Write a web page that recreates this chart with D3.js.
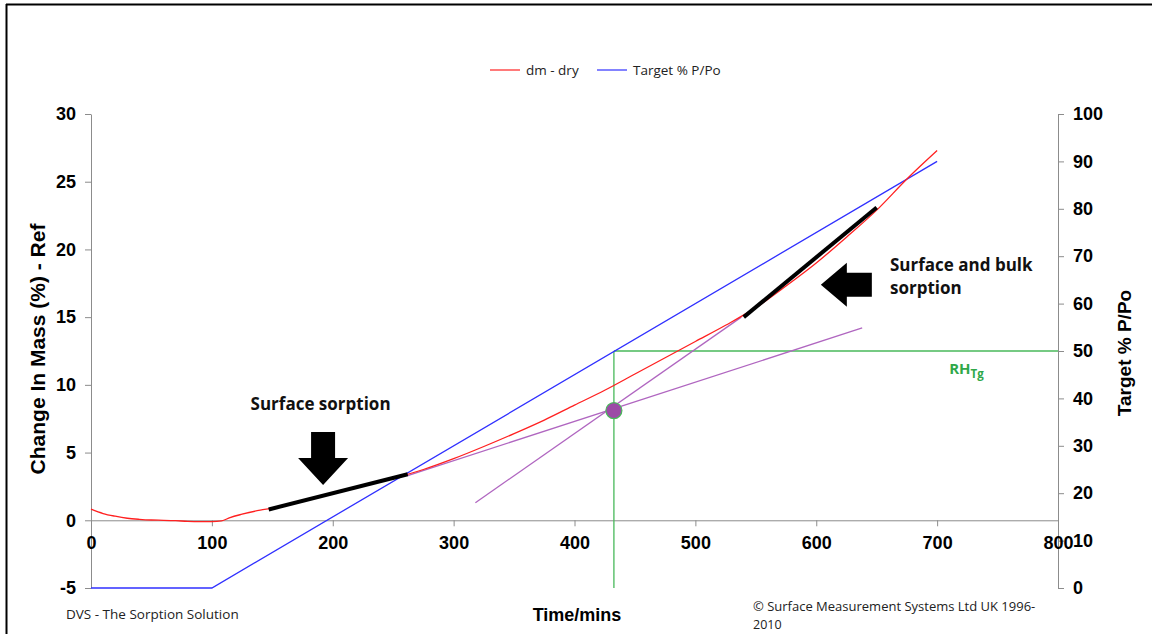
<!DOCTYPE html>
<html>
<head>
<meta charset="utf-8">
<script src="https://cdn.jsdelivr.net/npm/d3@7"></script>
<style>
  html, body { margin: 0; padding: 0; background: #fff; }
  svg { display: block; }
</style>
</head>
<body>
<svg id="chart" width="1152" height="634"></svg>
<script>
// Time axis (minutes)
const timeTicks = [0, 100, 200, 300, 400, 500, 600, 700, 800];
// Left axis: change in mass (%)
const massTicks = [-5, 0, 5, 10, 15, 20, 25, 30];
// Right axis: target % P/Po
const rhTicks = [0, 10, 20, 30, 40, 50, 60, 70, 80, 90, 100];

// dm - dry series: [minutes, % change in mass]
const dmTime = [0, 10, 20, 30, 40, 50, 60, 70, 80, 90, 100, 108, 115, 125, 140, 150, 175, 200, 225, 250, 275, 300, 325, 350, 375, 400, 425, 450, 475, 500, 525, 550, 575, 600, 625, 650, 675, 700];
const dmMass = [0.82, 0.5, 0.3, 0.15, 0.07, 0.02, 0, -0.03, -0.08, -0.1, -0.1, -0.05, 0.2, 0.45, 0.75, 0.9, 1.45, 2.0, 2.55, 3.1, 3.75, 4.55, 5.45, 6.4, 7.4, 8.5, 9.6, 10.8, 12.0, 13.2, 14.4, 15.7, 17.3, 19.0, 20.9, 22.9, 25.2, 27.3];

// Target % P/Po series: [minutes, %]
const targetTime = [0, 100, 700];
const targetRH = [0, 0, 90];

// Tangent lines drawn on the mass curve (minutes, % mass)
const surfaceTangent = [[147, 0.8], [262, 3.4]];
const bulkTangent = [[540, 15.0], [650, 23.1]];
// Construction lines through the glass transition point
const shallowLine = [[262, 3.3], [638, 14.2]];
const steepLine = [[318, 1.3], [538, 15.0]];
const tgPoint = [432.6, 8.1];
const tgRH = 50;

const svg = d3.select("#chart");
const W = 1152, H = 634;

const x = d3.scaleLinear().domain([0, 800]).range([91, 1058]);
const yL = d3.scaleLinear().domain([-5, 30]).range([588, 114]);
const yR = d3.scaleLinear().domain([0, 100]).range([588, 114]);

// outer frame
svg.append("line").attr("x1", 6).attr("y1", 4.5).attr("x2", W).attr("y2", 4.5)
  .attr("stroke", "#000").attr("stroke-width", 2);
svg.append("line").attr("x1", 6.5).attr("y1", 4).attr("x2", 6.5).attr("y2", H)
  .attr("stroke", "#000").attr("stroke-width", 2);

const axisFont = "'Liberation Sans', Arial, sans-serif";
const smallFont = "'Open Sans', 'Noto Sans', sans-serif";
const plainInt = d => String(d);

function styleAxis(g) {
  g.selectAll("path.domain").attr("stroke", "#8c8c8c");
  g.selectAll(".tick line").attr("stroke", "#8c8c8c");
  g.selectAll(".tick text").attr("fill", "#000")
    .style("font-family", axisFont).style("font-weight", "bold").style("font-size", "18px");
}

// left axis
const gL = svg.append("g").attr("transform", `translate(${x(0)},0)`)
  .call(d3.axisLeft(yL).tickValues(massTicks).tickSize(6).tickSizeOuter(0).tickPadding(9).tickFormat(plainInt));
styleAxis(gL);

// right axis
const gR = svg.append("g").attr("transform", `translate(${x(800)},0)`)
  .call(d3.axisRight(yR).tickValues(rhTicks).tickSize(6).tickSizeOuter(0).tickPadding(9).tickFormat(plainInt));
styleAxis(gR);

// time axis along mass = 0
const gB = svg.append("g").attr("transform", `translate(0,${yL(0)})`)
  .call(d3.axisBottom(x).tickValues(timeTicks).tickSize(6).tickSizeOuter(0).tickPadding(10).tickFormat(plainInt));
styleAxis(gB);
gB.selectAll(".tick").filter(d => d === 0).select("line").remove();

// axis titles
svg.append("text")
  .attr("transform", `translate(45,349) rotate(-90)`)
  .attr("text-anchor", "middle")
  .style("font-family", axisFont).style("font-weight", "bold").style("font-size", "21px")
  .text("Change In Mass (%) - Ref");
svg.append("text")
  .attr("transform", `translate(1131,${(yR(0) + yR(100)) / 2 + 2}) rotate(-90)`)
  .attr("text-anchor", "middle")
  .style("font-family", axisFont).style("font-weight", "bold").style("font-size", "19px")
  .text("Target % P/Po");
svg.append("text")
  .attr("x", 577).attr("y", 621)
  .attr("text-anchor", "middle")
  .style("font-family", axisFont).style("font-weight", "bold").style("font-size", "18px")
  .text("Time/mins");

// footer notes
svg.append("text").attr("x", 66).attr("y", 619)
  .style("font-family", smallFont).style("font-size", "13.5px").attr("fill", "#222")
  .text("DVS - The Sorption Solution");
svg.append("text").attr("x", 753).attr("y", 611)
  .style("font-family", smallFont).style("font-size", "13px").attr("fill", "#222")
  .text("\u00A9 Surface Measurement Systems Ltd UK 1996-");
svg.append("text").attr("x", 753).attr("y", 629)
  .style("font-family", smallFont).style("font-size", "12.5px").attr("fill", "#222")
  .text("2010");

// legend
const legend = [
  { name: "dm - dry", color: "#ff2020", x: 490 },
  { name: "Target % P/Po", color: "#3030ff", x: 597 }
];
legend.forEach(l => {
  svg.append("line").attr("x1", l.x).attr("x2", l.x + 30).attr("y1", 70).attr("y2", 70)
    .attr("stroke", l.color).attr("stroke-width", 1.2);
  svg.append("text").attr("x", l.x + 36).attr("y", 75)
    .style("font-family", smallFont).style("font-size", "13.5px").attr("fill", "#222")
    .text(l.name);
});

// green RH_Tg guide lines
const green = "#48b85a";
svg.append("line")
  .attr("x1", x(tgPoint[0])).attr("x2", x(800))
  .attr("y1", yR(tgRH)).attr("y2", yR(tgRH))
  .attr("stroke", green).attr("stroke-width", 1.3);
svg.append("line")
  .attr("x1", x(tgPoint[0])).attr("x2", x(tgPoint[0]))
  .attr("y1", yR(tgRH)).attr("y2", yL(-5))
  .attr("stroke", green).attr("stroke-width", 1.3);
const rhLabel = svg.append("text").attr("x", x(710)).attr("y", yR(45.2))
  .attr("fill", "#2fa84a")
  .style("font-family", smallFont).style("font-weight", "bold").style("font-size", "15px");
rhLabel.append("tspan").text("RH");
rhLabel.append("tspan").attr("dy", 4).style("font-size", "11.5px").text("Tg");

// purple construction lines
const purple = "#b066c0";
const seg = d3.line().x(d => x(d[0])).y(d => yL(d[1]));
[shallowLine, steepLine].forEach(s => {
  svg.append("path").attr("d", seg(s)).attr("fill", "none")
    .attr("stroke", purple).attr("stroke-width", 1.3);
});

// target series
const targetData = targetTime.map((t, i) => [t, targetRH[i]]);
svg.append("path")
  .attr("d", d3.line().x(d => x(d[0])).y(d => yR(d[1]))(targetData))
  .attr("fill", "none").attr("stroke", "#3030ff").attr("stroke-width", 1.3);

// mass series
const dmData = dmTime.map((t, i) => [t, dmMass[i]]);
svg.append("path")
  .attr("d", d3.line().curve(d3.curveMonotoneX).x(d => x(d[0])).y(d => yL(d[1]))(dmData))
  .attr("fill", "none").attr("stroke", "#ff2020").attr("stroke-width", 1.3);

// black tangents
[surfaceTangent, bulkTangent].forEach(s => {
  svg.append("path").attr("d", seg(s)).attr("fill", "none")
    .attr("stroke", "#000").attr("stroke-width", 4).attr("stroke-linecap", "butt");
});

// glass transition point
svg.append("circle").attr("cx", x(tgPoint[0])).attr("cy", yL(tgPoint[1])).attr("r", 8)
  .attr("fill", "#9c4aa6").attr("stroke", green).attr("stroke-width", 1.2);

// annotation arrows, anchored at their tips
function downArrow(tx, ty) {
  const p = [[0, 0], [-25, -27], [-12, -27], [-12, -53], [12, -53], [12, -27], [25, -27]];
  svg.append("path").attr("d", "M" + p.map(q => [tx + q[0], ty + q[1]].join(",")).join("L") + "Z")
    .attr("fill", "#000");
}
function leftArrow(tx, ty) {
  const p = [[0, 0], [26, -22], [26, -12], [51, -12], [51, 12], [26, 12], [26, 22]];
  svg.append("path").attr("d", "M" + p.map(q => [tx + q[0], ty + q[1]].join(",")).join("L") + "Z")
    .attr("fill", "#000");
}
downArrow(x(192), yL(2.6));
leftArrow(x(603.8), yL(17.4));

// annotation text
const noteFont = "'Open Sans', 'Noto Sans', sans-serif";
svg.append("text").attr("x", x(132)).attr("y", yL(8.15))
  .style("font-family", noteFont).style("font-weight", "bold").style("font-size", "17px")
  .attr("fill", "#111").text("Surface sorption");
svg.append("text").attr("x", x(661)).attr("y", yL(18.4))
  .style("font-family", noteFont).style("font-weight", "bold").style("font-size", "17px")
  .attr("fill", "#111").text("Surface and bulk");
svg.append("text").attr("x", x(661)).attr("y", yL(16.7))
  .style("font-family", noteFont).style("font-weight", "bold").style("font-size", "17px")
  .attr("fill", "#111").text("sorption");
</script>
</body>
</html>
